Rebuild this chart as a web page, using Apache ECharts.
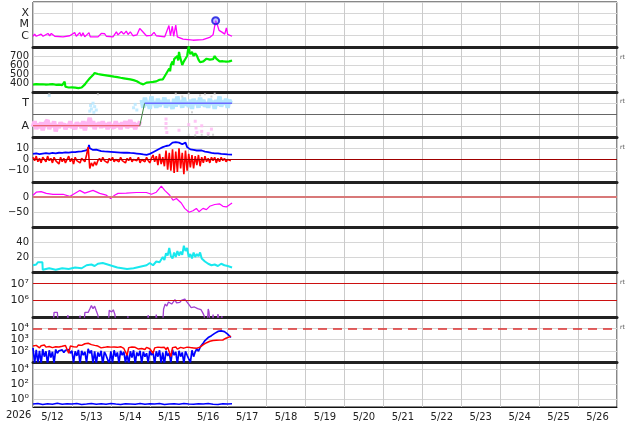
<!DOCTYPE html>
<html>
<head>
<meta charset="utf-8">
<script src="https://cdn.jsdelivr.net/npm/echarts@6.0.0/dist/echarts.min.js"></script>
<style>
html,body{margin:0;padding:0;background:#fff;}
#main{width:634px;height:424px;}
</style>
</head>
<body>
<div id="main"></div>
<script>
// hours counted from 5/12 00:00
var hourly = [0,1,2,3,4,5,6,7,8,9,10,11,12,13,14,15,16,17,18,19,20,21,22,23,24,25,26,27,28,29,30,31,32,33,34,35,36,37,38,39,40,41,42,43,44,45,46,47,48,49,50,51,52,53,54,55,56,57,58,59,60,61,62,63,64,65,66,67,68,69,70,71,72,73,74,75,76,77,78,79,80,81,82,83,84,85,86,87,88,89,90,91,92,93,94,95,96,97,98,99,100,101,102,103,104,105,106,107,108,109,110,111,112,113,114,115,116,117,118,119,120,121,122];
var dayLabels = ['5/12','5/13','5/14','5/15','5/16','5/17','5/18','5/19','5/20','5/21','5/22','5/23','5/24','5/25','5/26'];
var yearLabel = '2026';
var supDigits = ['\u2070','\u00b9','\u00b2','\u00b3','\u2074','\u2075','\u2076','\u2077'];

// panel 1 : x-ray flux
var xrayFlux = [[0,9e-7],[1,1.4e-6],[2,9e-7],[5,1.4e-6],[6.2,9e-7],[9.2,1.6e-6],[10.3,1.0e-6],[11.3,1.6e-6],[13.4,9e-7],[18.5,8e-7],[22.6,1.0e-6],[25.7,1.9e-6],[26.7,9e-7],[28.8,1.9e-6],[29.8,9e-7],[30.8,1.8e-6],[31.9,8e-7],[34.5,1.9e-6],[35.3,8e-7],[40.1,8e-7],[42.1,1.6e-6],[44.2,1.5e-6],[45.2,9e-7],[49.3,8e-7],[51.4,2.2e-6],[52.4,1.2e-6],[54.5,2.4e-6],[55.9,1.4e-6],[57.5,2.6e-6],[58.6,1.3e-6],[60,2.2e-6],[61.6,1.0e-6],[64.1,1.2e-6],[65.8,4.5e-6],[67.4,2.5e-6],[69.9,1.0e-6],[73,1.1e-6],[74.6,2.0e-6],[76,1.0e-6],[81.2,8e-7],[83.8,8e-6],[84.7,1.0e-6],[85.9,7e-6],[86.7,9e-7],[88,9e-6],[89,8e-7],[92.5,5e-7],[98.6,4e-7],[104.8,4.5e-7],[108.9,7e-7],[111,1.2e-6],[112.6,2.2e-5],[113.4,1.2e-5],[114.7,3e-6],[116.7,2e-6],[118.2,1.4e-6],[119.2,5e-6],[120,1.3e-6],[122.7,9e-7]];
var flareMark = [[112.6,2.2e-5]];

// panel 2 : solar wind speed
var windSpeed = [[0,382],[1,375],[2,388],[3,378],[4,384],[5,372],[6,386],[7,376],[8,383],[9,370],[10,385],[11,377],[12,388],[13,374],[14,380],[15,368],[16,382],[17,372],[18,376],[19,362],[19.5,415],[20,358],[21,366],[22,350],[23,360],[24,352],[25,364],[26,348],[27,358],[28,344],[29,356],[30,350],[31,362],[32,385],[33,410],[34,430],[35,452],[36,470],[37,488],[37.5,505],[38,512],[39,490],[40,500],[41,484],[42,494],[43,478],[44,488],[45,470],[46,482],[47,468],[48,476],[49,460],[50,470],[51,455],[52,466],[53,450],[54,458],[55,444],[56,452],[57,438],[58,446],[59,430],[60,440],[61,425],[62,432],[63,415],[64,420],[65,405],[66,398],[67,392],[68,385],[69,396],[70,404],[71,395],[72,408],[73,400],[74,412],[75,405],[76,418],[77,426],[78,436],[79,448],[80,440],[81,470],[82,500],[83,530],[84,560],[84.5,530],[85,600],[86,640],[86.5,600],[87,665],[88,650],[89,700],[89.5,650],[90,745],[90.5,700],[91,690],[92,600],[92.5,585],[93,640],[94,670],[95,700],[95.5,760],[96,805],[96.5,750],[97,720],[98,745],[99,700],[100,730],[101,705],[102,660],[103,630],[104,615],[105,640],[106,655],[107,670],[108,690],[109,660],[110,680],[111,665],[112,700],[113,670],[114,655],[115,640],[116,660],[117,642],[118,652],[119,638],[120,648],[121,640],[122,655],[122.7,650]];

// panel 3 : sector (T = 1, A = -1)
var sectorAway = [[0,-1],[65.8,-1]];
var sectorTurn = [[65.8,-1],[68.8,1]];
var sectorToward = [[68.8,1],[122.7,1]];
var pinkVals = [-1.1,-0.6,-1.3,-0.8,-1.2,-0.7,-1.4,-0.9,-1.0,-0.5,-1.3,-0.8,-1.1,-0.6,-1.5,-0.9,-1.2,-0.7,-1.0,-0.8,-1.3,-0.9,-1.1,-0.6,-1.2,-0.9,-1.3,-0.7,-1.0,-0.8,-1.2,-0.6,-1.4,-0.7,-0.9,-0.3,-1.1,-0.6,-1.3,-0.8,-1.0,-0.7,-1.2,-0.6,-1.1,-0.8,-1.3,-0.7,-1.0,-0.9,-1.2,-0.6,-1.1,-0.8,-1.3,-0.7,-1.0,-0.6,-1.2,-0.9,-0.5,-1.1,-0.7,-1.3,-0.8,-1.0,-0.6];
var cyanVals = [1.3,0.6,1.5,0.8,1.2,0.5,1.6,0.9,1.1,0.6,1.4,0.7,1.2,0.9,1.5,0.6,1.3,0.8,1.0,0.5,1.4,0.7,1.6,0.9,1.2,0.6,1.5,0.8,1.1,0.7,1.3,0.5,1.4,0.9,1.2,0.6,1.5,0.8,1.3,0.7,1.1,0.6,1.4,0.9,1.2,0.5,1.3,0.8,1.6,0.7,1.2,0.9,1.4,0.6,1.3,1.0];
var blueDots = [[10,1.7],[35,0.3],[35.5,0.8],[36,0.5],[37,1.0],[37.5,0.2],[38,0.7],[39,0.4],[62,0.6],[63,0.9],[64,0.4]];
var pinkDots = [[82,-0.4],[82,-0.8],[82,-1.2],[82.5,-1.6],[90,-1.4],[96,-0.9],[100,-0.6],[100.5,-1.2],[101,-1.6],[104,-1.0],[104,-1.5],[108,-1.7],[110,-1.3]];
var grayDots = [[10,1.8],[40,1.8],[88,1.85],[92,1.6],[96,1.85],[103,1.7],[106,1.8],[110,1.6],[112,1.85],[96,-1.8],[100,-1.85],[104,-1.8],[108,-1.85],[111,-1.8],[98,0.2]];

// panel 4 : Bt / Bz
var btVals = [[0,5],[2,5.5],[4,4.8],[6,5.2],[8,5.6],[10,5.3],[12,5.8],[14,5.5],[16,6],[18,5.8],[20,6.3],[22,6.1],[24,6.6],[26,6.5],[28,7],[30,7.3],[32,7.8],[33,8.5],[34,9],[34.5,13],[35,10],[36,9],[37,8.5],[38,9.5],[39,8.8],[40,8],[42,7.5],[44,7.2],[46,7],[48,6.8],[50,6.6],[52,6.4],[54,6.2],[56,6],[58,6.1],[60,5.8],[62,5.6],[64,5.3],[66,5],[68,4.5],[70,4.2],[72,5],[74,6.5],[76,8],[78,9.5],[80,11],[81,10],[82,12],[83,13],[84,12.5],[85,14],[86,15],[87,14],[88,15.5],[89,16.5],[90,15],[91,14],[92,13.5],[93,14.5],[94,15],[94.5,13],[95,11],[96,10],[97,9],[98,9.5],[99,8.5],[100,9],[101,8],[102,8.5],[104,8],[106,7],[108,6.5],[110,5.8],[112,5.5],[114,5.5],[116,5],[118,4.8],[120,4.5],[122.7,4.3]];
var bzVals = [2,-1,3,-2,1,-3,2,0,-2,3,-1,1,-3,2,-1,0,-4,2,-2,1,-3,0,3,-2,1,-4,2,-1,0,-3,1,2,-2,4,11,-8,-3,-6,-2,-5,-1,1,-2,2,-1,0,-3,1,-1,2,-2,0,1,-2,2,-1,0,-3,1,-1,2,-2,0,1,-1,2,-3,0,1,-2,2,-1,-3,1,4,-2,3,-5,5,-4,2,-6,8,-9,6,-10,9,-12,7,-11,10,-8,6,-13,8,-10,5,-7,4,-8,3,-5,4,-6,2,-3,3,-2,1,-3,2,-1,2,-3,1,-2,2,-1,1,-2,0,1,-1];

// panel 5
var dstVals = [[0,6],[2,16],[5,18],[8.2,12],[12.3,9],[18.5,9],[22.6,2],[28.8,22],[31.9,13],[37,22],[41.1,12],[45.2,6],[47.9,-5],[50.3,6],[52.4,12],[57.5,13],[63.7,15],[69.9,15],[73,9],[76,16],[79.1,36],[81.2,22],[84.3,6],[86.3,-11],[88.4,-5],[91.4,-20],[93.5,-38],[96.2,-51],[98.6,-46],[100.7,-38],[102.3,-49],[104.8,-38],[106.9,-42],[108.9,-31],[112,-25],[115.1,-23],[117.1,-31],[119.2,-33],[122.7,-20]];

// panel 6
var densVals = [[0,9],[2,10],[3,13],[4,12],[5.8,13],[6,3],[7,4],[10,5],[14,3],[18,5],[22,4],[26,6],[30,5],[33,9],[36,10],[38,8],[40,11],[43,12],[46,10],[49,8],[52,6],[55,5],[58,4],[62,5],[66,7],[70,9],[72,12],[74,9],[76,14],[78,13],[80,20],[81,16],[82,25],[83,22],[84,32],[85,21],[86,18],[87,26],[88,20],[89,28],[90,22],[91,27],[92,23],[93,35],[94,28],[95,32],[96,20],[97,24],[98,18],[99,26],[100,20],[101,24],[102,21],[103,26],[104,18],[105,20],[106,14],[107,13],[108,11],[110,9],[112,10],[114,8],[116,11],[118,9],[120,8],[122.7,6]];

// panel 7
var electronVals = [[0,5e4],[12.5,5e4],[13,1.9e5],[15,1.9e5],[15.5,5e4],[21,5e4],[21.5,1.3e5],[22,5e4],[28.5,5e4],[29,1.2e5],[29.5,5e4],[31.5,5e4],[32,1.9e5],[33,1.6e5],[34,1.9e5],[35,3e5],[36,4.8e5],[37,3.2e5],[38,4.5e5],[39,2.4e5],[40,1.3e5],[40.5,5e4],[46.5,5e4],[47,2.5e5],[47.5,3e5],[48.5,2e5],[49.5,2.7e5],[50.5,1.4e5],[51,5e4],[58,5e4],[58.5,1.1e5],[59,5e4],[70.5,5e4],[71,1.3e5],[71.5,5e4],[75.5,5e4],[76,1.4e5],[76.5,5e4],[80,5e4],[80.5,3e5],[81.5,6e5],[82.5,4.5e5],[83.5,8e5],[84.5,9.5e5],[85.5,6e5],[86.5,8e5],[87.5,1.1e6],[88.5,7e5],[89.5,9e5],[90.5,7.5e5],[91.5,1e6],[92.5,8e5],[93.5,1.2e6],[94.5,9e5],[95.5,7e5],[96.5,5e5],[97.5,3.7e5],[98.5,3e5],[99.5,4e5],[100.5,4.8e5],[101.5,3.2e5],[102.5,4e5],[103.5,2.8e5],[104.5,1.9e5],[105.5,1.2e5],[106,5e4],[107.5,5e4],[108,3e5],[108.5,2e5],[109,5e4],[110.5,5e4],[111,1.4e5],[111.5,5e4],[113.5,5e4],[114,1.5e5],[114.5,1.2e5],[115,5e4],[116,5e4],[116.5,1.1e5],[117,5e4],[122.7,5e4]];

// panel 8
var protonRed = [260,220,300,240,180,280,250,320,210,270,240,300,190,260,230,310,220,280,250,200,290,240,60,260,300,230,270,210,330,250,300,350,420,380,460,400,350,420,300,330,260,220,180,240,200,160,230,190,210,150,220,170,200,140,230,180,160,210,40,190,170,220,150,200,180,140,210,160,190,130,200,170,150,220,60,180,160,210,140,190,170,200,130,210,150,30,190,160,220,140,180,200,150,170,120,210,160,190,140,180,200,170,230,210,280,350,450,520,600,700,760,820,900,850,950,880,1000,900,1100,1300,1500,1700,2000];
var protonBlue = [180,8,120,9,100,7,140,30,90,6,110,25,80,8,130,60,100,90,120,70,110,80,130,60,100,9,90,35,120,7,100,40,80,9,150,60,110,8,90,7,70,30,100,6,80,40,60,7,90,9,110,30,70,8,100,40,80,9,60,6,90,25,110,7,70,35,100,8,80,30,60,9,100,40,80,7,90,30,110,8,70,6,100,35,60,9,120,40,80,7,100,30,70,8,90,40,60,9,110,30,80,150,90,200,320,500,800,1200,1500,1800,2200,2800,3500,4500,5200,5600,5800,5500,5000,4000,3000,2200,1500];

// panel 9
var highEnergy = [[0,0.25],[3,0.3],[6,0.22],[9,0.28],[12,0.24],[15,0.31],[18,0.23],[21,0.27],[24,0.26],[27,0.3],[30,0.22],[33,0.25],[36,0.29],[39,0.24],[42,0.27],[45,0.23],[48,0.3],[51,0.25],[54,0.22],[57,0.28],[60,0.26],[63,0.24],[66,0.3],[69,0.23],[72,0.27],[75,0.25],[78,0.29],[81,0.22],[84,0.26],[87,0.28],[90,0.24],[93,0.3],[96,0.25],[99,0.23],[102,0.27],[105,0.26],[108,0.29],[111,0.24],[114,0.22],[117,0.28],[120,0.25],[122.7,0.27]];

var panelTops = [2,47,92,137,182,227,272,317,362];
var FONT = 'DejaVu Sans';

function zip(xs, ys, start){
	var ret = [];
	for (var i = 0; i < ys.length; i++) {
		ret.push([xs[start + i], ys[i]]);
	}
	return ret;
}
function expOf(v){
	return Math.round(Math.log(v) / Math.LN10);
}
function powLabel(list){
	return function(v){
		var e = expOf(v);
		if (list.indexOf(e) < 0) return '';
		return '10' + supDigits[e];
	};
}

function makeY(i, o){
	var y = {
		gridIndex: i,
		type: o.type || 'value',
		min: o.min,
		max: o.max,
		axisLine: {show: false},
		axisTick: {show: false},
		splitLine: {show: o.split !== false, lineStyle: {color: '#d6d6d6', width: 1}},
		axisLabel: {
			margin: 4,
			fontSize: o.fontSize || 10,
			color: '#222',
			fontFamily: FONT,
			formatter: o.formatter
		}
	};
	if (o.interval) y.interval = o.interval;
	if (o.logBase) y.logBase = o.logBase;
	return y;
}
function line(i, data, color, width, extra){
	var s = {
		type: 'line',
		xAxisIndex: i,
		yAxisIndex: i,
		data: data,
		showSymbol: false,
		symbol: 'none',
		animation: false,
		silent: true,
		lineStyle: {color: color, width: width || 1},
		z: 3
	};
	for (var k in extra) s[k] = extra[k];
	return s;
}
function dots(i, data, color, size){
	return {
		type: 'scatter', xAxisIndex: i, yAxisIndex: i, data: data,
		symbol: 'rect', symbolSize: size || 3, animation: false, silent: true,
		itemStyle: {color: color}, z: 2
	};
}
function hline(values, color, width, type){
	var d = [];
	for (var i = 0; i < values.length; i++) d.push({yAxis: values[i]});
	return {
		silent: true, symbol: 'none', animation: false,
		label: {show: false},
		lineStyle: {color: color, width: width, type: type || 'solid'},
		data: d
	};
}

var grids = [], xAxes = [], yAxes = [];
for (var i = 0; i < 9; i++) {
	grids.push({left: 33, right: 17, top: panelTops[i], height: 45, show: true, borderColor: '#111', borderWidth: 1, outerBoundsMode: 'none'});
	xAxes.push({
		gridIndex: i, type: 'value', min: 0, max: 360, interval: 24,
		axisLabel: {show: false}, axisTick: {show: false},
		axisLine: {show: i < 8, onZero: false, lineStyle: {color: '#222', width: 3}},
		splitLine: {show: true, lineStyle: {color: '#cbcbcb', width: 1}}
	});
}
// day labels sit in the middle of each day
xAxes.push({
	gridIndex: 8, type: 'category', data: dayLabels, boundaryGap: true, position: 'bottom',
	axisLine: {show: true, lineStyle: {color: '#111', width: 1}},
	axisTick: {show: false}, splitLine: {show: false},
	axisLabel: {margin: 5, fontSize: 10, color: '#222', fontFamily: FONT, interval: 0}
});

yAxes.push(makeY(0, {type: 'log', min: 1e-7, max: 1e-3, fontSize: 11, formatter: function(v){
	return {'-6': 'C', '-5': 'M', '-4': 'X'}[expOf(v)] || '';
}}));
yAxes.push(makeY(1, {min: 300, max: 800, interval: 100, formatter: function(v){
	return (v > 300 && v < 800) ? String(v) : '';
}}));
yAxes.push(makeY(2, {min: -2, max: 2, interval: 1, fontSize: 11, formatter: function(v){
	return v === 1 ? 'T' : (v === -1 ? 'A' : '');
}}));
yAxes.push(makeY(3, {min: -20, max: 20, interval: 10, formatter: function(v){
	return v === 10 ? '10' : (v === 0 ? '0' : (v === -10 ? '\u221210' : ''));
}}));
yAxes.push(makeY(4, {min: -100, max: 50, interval: 50, formatter: function(v){
	return v === 0 ? '0' : (v === -50 ? '\u221250' : '');
}}));
yAxes.push(makeY(5, {min: 0, max: 60, interval: 20, formatter: function(v){
	return (v === 20 || v === 40) ? String(v) : '';
}}));
yAxes.push(makeY(6, {type: 'log', min: 1e5, max: 5e7, split: false, fontSize: 11, formatter: powLabel([6, 7])}));
yAxes.push(makeY(7, {type: 'log', min: 1e1, max: 1e5, fontSize: 11, formatter: powLabel([2, 3, 4])}));
yAxes.push(makeY(8, {type: 'log', logBase: 100, min: 0.1, max: 1e5, fontSize: 11, formatter: powLabel([0, 2, 4])}));

var series = [
	line(0, xrayFlux, '#ff00ff', 1.3),
	{
		type: 'scatter', xAxisIndex: 0, yAxisIndex: 0, data: flareMark, symbol: 'circle', symbolSize: 7,
		animation: false, silent: true, z: 5,
		itemStyle: {color: 'rgba(130,130,255,0.6)', borderColor: '#1010e0', borderWidth: 2}
	},
	line(1, windSpeed, '#00ee00', 2.2),

	line(2, zip(hourly, pinkVals, 0), '#ffb6f2', 4.5, {z: 1, markLine: hline([0], '#666', 1)}),
	line(2, zip(hourly, cyanVals, 67), '#b4e6ff', 4.5, {z: 1}),
	dots(2, blueDots, '#b4e6ff', 3),
	dots(2, pinkDots, '#ffb6f2', 3),
	dots(2, grayDots, '#c8c8c8', 2),
	line(2, sectorAway, '#e04848', 1),
	line(2, sectorTurn, '#408a40', 1),
	line(2, sectorToward, '#6a6aff', 1.5),

	line(3, btVals, '#0000ff', 1.8),
	line(3, zip(hourly, bzVals, 0), '#ff0000', 1.6, {markLine: hline([0], '#a00000', 1)}),

	line(4, dstVals, '#ff00ff', 1.2, {markLine: hline([0], '#d87878', 2)}),
	line(5, densVals, '#19e8ee', 2),
	line(6, electronVals, '#a040d0', 1.3, {markLine: hline([1e6, 1e7], '#cc1010', 1)}),

	line(7, zip(hourly, protonBlue, 0), '#0000ff', 1.7, {markLine: hline([1e4], '#dd3030', 1.5, [9, 6])}),
	line(7, zip(hourly, protonRed, 0), '#ff0000', 1.5),
	line(8, highEnergy, '#0000ff', 1.5)
];

var rtTops = [57, 101, 147, 282, 327];
var graphics = [{
	type: 'text', left: 6, top: 410,
	style: {text: yearLabel, fontSize: 10, fill: '#222', fontFamily: FONT}
}];
for (var r = 0; r < rtTops.length; r++) {
	graphics.push({type: 'text', left: 620, top: rtTops[r] - 3, style: {text: 'rt', fontSize: 6, fill: '#555', fontFamily: FONT}});
}

var myChart = echarts.init(document.getElementById('main'));
myChart.setOption({
	backgroundColor: '#fff',
	animation: false,
	grid: grids,
	xAxis: xAxes,
	yAxis: yAxes,
	graphic: graphics,
	series: series
});
</script>
</body>
</html>
